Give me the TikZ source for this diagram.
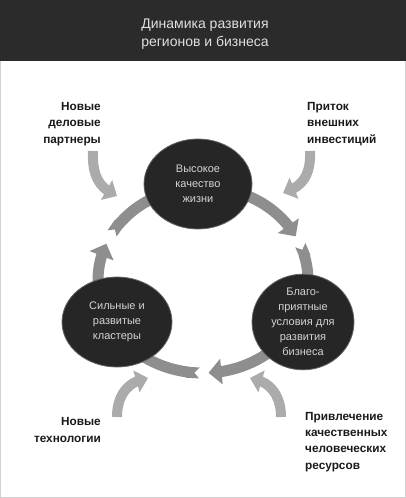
\documentclass[tikz,border=0pt]{standalone}
\usepackage{fontspec}
\setmainfont{Liberation Sans}
\usetikzlibrary{arrows.meta,bending,shapes.geometric,calc}
\definecolor{hdr}{HTML}{2B2B2B}
\definecolor{disk}{HTML}{262626}
\definecolor{ringc}{HTML}{8E8E8E}
\definecolor{feedc}{HTML}{ABABAB}
\definecolor{disktext}{HTML}{D4D4D4}
\definecolor{lbl}{HTML}{1A1A1A}
\begin{document}
\begin{tikzpicture}[x=1pt,y=-1pt,
  ringarrow/.style={draw=ringc,line width=11pt,{Triangle Cap[reversed,length=5pt]}-{Triangle[width=25pt,length=13pt]}},
  feedarrow/.style={draw=feedc,line width=10pt,-{Triangle[width=22pt,length=12pt]}},
  disknode/.style={ellipse,fill=disk,draw=black!60,line width=0.8pt,inner sep=0pt,text=disktext,align=center,font=\fontsize{11}{15}\selectfont},
  cuetext/.style={font=\bfseries\fontsize{11.8}{16.3}\selectfont,text=lbl,inner sep=0pt}]
\useasboundingbox (0,0) rectangle (406,498);
\draw[black!18,line width=1pt] (0.5,0.5) rectangle (405.5,497.5);
\fill[hdr] (0,0) rectangle (406,61);
\node[text=black!12,align=center,font=\fontsize{14}{18}\selectfont] (title) at (205,34) {Динамика развития\\регионов и бизнеса};
% ring arrows
\coordinate (C) at (203,280);
\draw[ringarrow] ($(C)+({105*cos(210)},{93*sin(210)})$) arc[start angle=210,end angle=332,x radius=105,y radius=93];
\draw[ringarrow] ($(C)+({105*cos(338)},{93*sin(338)})$) arc[start angle=338,end angle=447,x radius=105,y radius=93];
\draw[ringarrow] ($(C)+({105*cos(92)},{93*sin(92)})$) arc[start angle=92,end angle=203,x radius=105,y radius=93];
% disks
\node[disknode,minimum width=108pt,minimum height=90pt] (top) at (198,184) {Высокое\\качество\\жизни};
\node[disknode,minimum width=110pt,minimum height=90pt] (left) at (117,322) {Сильные и\\развитые\\кластеры};
\node[disknode,minimum width=102pt,minimum height=90pt] (right) at (303,322) {Благо-\\приятные\\условия для\\развития\\бизнеса};
% labels
\node[cuetext,align=right,anchor=east] (partners) at (101,124) {Новые\\деловые\\партнеры};
\node[cuetext,align=left,anchor=west] (invest) at (307,124) {Приток\\внешних\\инвестиций};
\node[cuetext,align=right,anchor=east] (tech) at (101,430) {Новые\\технологии};
\node[cuetext,align=left,anchor=west] (human) at (305,442) {Привлечение\\качественных\\человеческих\\ресурсов};
% feed arrows
\coordinate (f1s) at (93,151); \coordinate (f1e) at (117,196);
\coordinate (f2s) at (310,151); \coordinate (f2e) at (283,193);
\coordinate (f3s) at (117,417); \coordinate (f3e) at (148,378);
\coordinate (f4s) at (281,417); \coordinate (f4e) at (250,378);
\draw[feedarrow] (f1s) .. controls (92,176) and (99,188) .. (f1e);
\draw[feedarrow] (f2s) .. controls (311,176) and (302,187) .. (f2e);
\draw[feedarrow] (f3s) .. controls (117,395) and (128,381) .. (f3e);
\draw[feedarrow] (f4s) .. controls (281,395) and (270,381) .. (f4e);
\end{tikzpicture}
\end{document}
